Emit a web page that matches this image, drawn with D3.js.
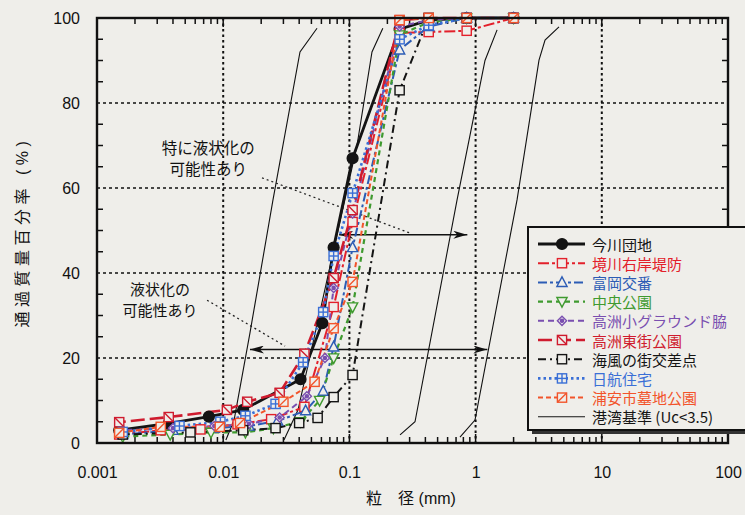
<!DOCTYPE html>
<html>
<head>
<meta charset="utf-8">
<script src="https://cdn.jsdelivr.net/npm/d3@7/dist/d3.min.js"></script>
<style>
body { margin: 0; background: #efeeea; }
svg { display: block; font-family: "Liberation Sans", Arial, "Noto Sans CJK JP", sans-serif; }
</style>
</head>
<body>
<div id="chart"></div>
<script>
// set up dimens. and margins
const margin = { top: 18, right: 17, bottom: 72, left: 97 };
const width = 745 - margin.left - margin.right;
const height = 515 - margin.top - margin.bottom;
const bg = '#efeeea';

// axis values
const xTicks = [0.001, 0.01, 0.1, 1, 10, 100];
const xTickLabels = ['0.001', '0.01', '0.1', '1', '10', '100'];
const yTicks = [0, 20, 40, 60, 80, 100];
const xGrid = [0.01, 0.1, 1, 10];
const yGrid = [20, 40, 60, 80];

// grain size curves: [diameter mm, passing %]
const imakawa = [[2, 100], [0.85, 100], [0.425, 99.5], [0.25, 97.4], [0.106, 67], [0.075, 46], [0.061, 28.2], [0.041, 15], [0.0144, 7.8], [0.0077, 6.2], [0.0037, 4.6], [0.0015, 3]];
const sakaigawa = [[2, 100], [0.85, 97], [0.425, 96.7], [0.25, 96.5], [0.106, 52], [0.075, 32], [0.044, 8.5], [0.024, 5.6], [0.013, 4.4], [0.0066, 3.2], [0.0032, 3], [0.0015, 2]];
const tomioka = [[2, 100], [0.85, 100], [0.425, 98], [0.25, 92.5], [0.106, 46], [0.075, 22.6], [0.062, 12.2], [0.045, 7.6], [0.027, 5.2], [0.016, 4], [0.0085, 3.5], [0.004, 3], [0.0016, 2]];
const chuo = [[2, 100], [0.85, 100], [0.425, 99], [0.25, 96], [0.106, 32], [0.075, 20], [0.058, 10], [0.041, 5], [0.025, 3.5], [0.015, 2.5], [0.008, 2.5], [0.0038, 2], [0.0016, 1.5]];
const takasuSho = [[2, 100], [0.85, 100], [0.425, 99.5], [0.25, 98], [0.106, 54], [0.075, 36.5], [0.064, 20], [0.046, 11], [0.028, 6], [0.016, 4.5], [0.0085, 4], [0.004, 3.5], [0.0016, 3]];
const takasuHigashi = [[2, 100], [0.85, 100], [0.425, 100], [0.25, 99.5], [0.106, 54.8], [0.075, 38.8], [0.044, 21], [0.028, 11.8], [0.0155, 9.7], [0.0107, 7.8], [0.0037, 6.1], [0.0015, 4.9]];
const kaifu = [[2, 100], [0.85, 100], [0.425, 100], [0.25, 83], [0.106, 16], [0.075, 10.8], [0.056, 5.9], [0.04, 4.7], [0.026, 3.5], [0.0144, 3], [0.0055, 2.5], [0.0016, 2]];
const nikko = [[2, 100], [0.85, 100], [0.425, 98.3], [0.25, 95], [0.106, 58.8], [0.075, 44], [0.062, 30.8], [0.043, 19], [0.026, 9.2], [0.015, 6.4], [0.0095, 5], [0.0045, 4], [0.0016, 2.6]];
const urayasu = [[2, 100], [0.85, 100], [0.425, 100], [0.25, 99.5], [0.106, 37.9], [0.075, 27], [0.053, 14.4], [0.03, 9.7], [0.0136, 4.7], [0.0094, 3.8], [0.0032, 3.8], [0.0015, 2.4]];

// port standard boundary curves (Uc<3.5)
const kowanA = [[0.0105, 0.7], [0.0122, 5.4], [0.0163, 25.9], [0.0248, 57.2], [0.0406, 92], [0.0554, 97.6]];
const kowanB = [[0.0303, 0.7], [0.0392, 7.8], [0.115, 70.1], [0.151, 92], [0.184, 97.6]];
const kowanC = [[0.252, 1.9], [0.331, 5], [0.713, 57.2], [1.187, 90], [1.48, 97.2]];
const kowanD = [[0.752, 1.4], [0.989, 5.4], [2.13, 57.2], [3.18, 90.1], [3.55, 94.8], [4.58, 97.9]];

// annotations
const arrowUpper = { p: 49, d1: 0.083, d2: 0.86 };
const arrowLower = { p: 22, d1: 0.0163, d2: 1.24 };
const leaderUpper = [[0.0203, 62.4], [0.302, 49.4]];
const leaderLower = [[0.00745, 33.6], [0.0309, 22.8]];
const noteUpper = { d: 0.0076, p: 69.4, gap: 21, size: 15.5, lines: ['特に液状化の', '可能性あり'] };
const noteLower = { d: 0.00316, p: 36.2, gap: 21, size: 15, lines: ['液状化の', '可能性あり'] };

const seriesList = [
    { name: '今川団地', data: imakawa, color: '#141414', dash: null, w: 2.8, marker: 'circle' },
    { name: '境川右岸堤防', data: sakaigawa, color: '#e3202b', dash: '11,3,3,3', w: 2, marker: 'square' },
    { name: '富岡交番', data: tomioka, color: '#2c5cb5', dash: '9,3,3,3', w: 2, marker: 'triangle' },
    { name: '中央公園', data: chuo, color: '#3f9a2f', dash: '5,4', w: 2.2, marker: 'triangleDown' },
    { name: '高洲小グラウンド脇', data: takasuSho, color: '#7a4fb0', dash: '6,4', w: 2, marker: 'diamond' },
    { name: '高洲東街公園', data: takasuHigashi, color: '#cf1b2e', dash: '14,5', w: 2.6, marker: 'squareBack' },
    { name: '海風の街交差点', data: kaifu, color: '#141414', dash: '8,4,2,4', w: 2, marker: 'square' },
    { name: '日航住宅', data: nikko, color: '#3a6fd6', dash: '2.5,3', w: 2.6, marker: 'squareGrid' },
    { name: '浦安市墓地公園', data: urayasu, color: '#f2542b', dash: '5,3', w: 2, marker: 'squareSlash' }
];

const svg = d3.select('#chart')
    .append('svg')
    .attr('width', 745)
    .attr('height', 515);

svg.append('rect').attr('width', 745).attr('height', 515).attr('fill', bg);

const g = svg.append('g')
    .attr('transform', `translate(${margin.left},${margin.top})`);

const x = d3.scaleLog().domain([0.001, 100]).range([0, width]);
const y = d3.scaleLinear().domain([0, 100]).range([height, 0]);

// grid
g.selectAll('.hgrid').data(yGrid).enter().append('line')
    .attr('x1', 0).attr('x2', width)
    .attr('y1', d => y(d)).attr('y2', d => y(d))
    .attr('stroke', '#111').attr('stroke-width', 1.3).attr('stroke-dasharray', '3,3');
g.selectAll('.vgrid').data(xGrid).enter().append('line')
    .attr('x1', d => x(d)).attr('x2', d => x(d))
    .attr('y1', 0).attr('y2', height)
    .attr('stroke', '#111').attr('stroke-width', 2).attr('stroke-dasharray', '2.5,3');

// minor ticks (inward)
const xMinor = [];
[0.001, 0.01, 0.1, 1, 10].forEach(dec => d3.range(2, 10).forEach(k => xMinor.push(dec * k)));
const yMinor = d3.range(5, 100, 5).filter(v => v % 20 !== 0);
const tickG = g.append('g').attr('stroke', '#111').attr('stroke-width', 1.5);
xMinor.forEach(v => {
    tickG.append('line').attr('x1', x(v)).attr('x2', x(v)).attr('y1', height).attr('y2', height - 6);
    tickG.append('line').attr('x1', x(v)).attr('x2', x(v)).attr('y1', 0).attr('y2', 6);
});
xTicks.forEach(v => {
    tickG.append('line').attr('x1', x(v)).attr('x2', x(v)).attr('y1', height).attr('y2', height - 9);
    tickG.append('line').attr('x1', x(v)).attr('x2', x(v)).attr('y1', 0).attr('y2', 9);
});
yMinor.forEach(v => {
    tickG.append('line').attr('x1', 0).attr('x2', 6).attr('y1', y(v)).attr('y2', y(v));
    tickG.append('line').attr('x1', width).attr('x2', width - 6).attr('y1', y(v)).attr('y2', y(v));
});

// axes labels
g.append('g')
    .attr('transform', `translate(0,${height})`)
    .call(d3.axisBottom(x).tickValues(xTicks).tickFormat((d, i) => xTickLabels[i]).tickSize(0).tickPadding(24))
    .call(a => a.select('.domain').remove())
    .selectAll('text').attr('font-size', 16).attr('fill', '#111')
    .attr('font-family', '"Liberation Sans", Arial, sans-serif');
g.append('g')
    .call(d3.axisLeft(y).tickValues(yTicks).tickSize(0).tickPadding(17))
    .call(a => a.select('.domain').remove())
    .selectAll('text').attr('font-size', 16).attr('fill', '#111')
    .attr('font-family', '"Liberation Sans", Arial, sans-serif');

// boundary curves
const line = d3.line().x(d => x(d[0])).y(d => y(d[1]));
[kowanA, kowanB, kowanC, kowanD].forEach(c => {
    g.append('path').attr('d', line(c)).attr('fill', 'none')
        .attr('stroke', '#111').attr('stroke-width', 1.1);
});

// leaders
[leaderUpper, leaderLower].forEach(l => {
    g.append('path').attr('d', line(l)).attr('fill', 'none')
        .attr('stroke', '#222').attr('stroke-width', 1.3).attr('stroke-dasharray', '2,3');
});

// arrows
const defs = svg.append('defs');
defs.append('marker').attr('id', 'ah').attr('viewBox', '0 0 14 8')
    .attr('refX', 14).attr('refY', 4).attr('markerWidth', 14).attr('markerHeight', 8)
    .attr('markerUnits', 'userSpaceOnUse').attr('orient', 'auto-start-reverse')
    .append('path').attr('d', 'M0,0 L14,4 L0,8 L4,4 Z').attr('fill', '#111');
[arrowUpper, arrowLower].forEach(a => {
    g.append('line')
        .attr('x1', x(a.d1)).attr('x2', x(a.d2))
        .attr('y1', y(a.p)).attr('y2', y(a.p))
        .attr('stroke', '#111').attr('stroke-width', 1.5)
        .attr('marker-start', 'url(#ah)').attr('marker-end', 'url(#ah)');
});

// notes, one text block each with two lines
[noteUpper, noteLower].forEach(n => {
    const t = g.append('text').attr('text-anchor', 'middle')
        .attr('font-size', n.size).attr('fill', '#111')
        .attr('font-family', '"Noto Sans CJK JP", sans-serif');
    n.lines.forEach((s, i) => {
        t.append('tspan').attr('x', x(n.d))
            .attr('y', y(n.p) + 5.5 + i * n.gap)
            .text(s);
    });
});

// marker drawing
function drawMarker(sel, type, color, cx, cy) {
    const s = 4.6;
    const mg = sel.append('g').attr('transform', `translate(${cx},${cy})`)
        .attr('stroke', color).attr('stroke-width', 1.4).attr('fill', bg);
    if (type === 'circle') {
        mg.append('circle').attr('r', 5.4).attr('fill', color);
    } else if (type === 'triangle') {
        mg.append('path').attr('d', `M0,${-s - 1} L${s + 0.5},${s - 0.5} L${-s - 0.5},${s - 0.5} Z`);
    } else if (type === 'triangleDown') {
        mg.append('path').attr('d', `M0,${s + 1} L${s + 0.5},${-s + 0.5} L${-s - 0.5},${-s + 0.5} Z`);
    } else if (type === 'diamond') {
        mg.append('path').attr('d', `M0,${-s} L${s},0 L0,${s} L${-s},0 Z`);
        mg.append('circle').attr('r', 1.6).attr('fill', color);
    } else {
        mg.append('rect').attr('x', -s).attr('y', -s).attr('width', 2 * s).attr('height', 2 * s);
        if (type === 'squareBack') mg.append('line').attr('x1', -s).attr('y1', -s).attr('x2', s).attr('y2', s);
        if (type === 'squareSlash') mg.append('line').attr('x1', -s).attr('y1', s).attr('x2', s).attr('y2', -s);
        if (type === 'squareGrid') {
            mg.append('line').attr('x1', 0).attr('y1', -s).attr('x2', 0).attr('y2', s);
            mg.append('line').attr('x1', -s).attr('y1', 0).attr('x2', s).attr('y2', 0);
        }
    }
}

// series
seriesList.forEach(s => {
    g.append('path').attr('d', line(s.data)).attr('fill', 'none')
        .attr('stroke', s.color).attr('stroke-width', s.w)
        .attr('stroke-dasharray', s.dash);
});
seriesList.forEach(s => {
    s.data.forEach(d => drawMarker(g, s.marker, s.color, x(d[0]), y(d[1])));
});

// frame
g.append('rect').attr('width', width).attr('height', height)
    .attr('fill', 'none').attr('stroke', '#111').attr('stroke-width', 2.4);

// axis titles
svg.append('text').attr('x', 411).attr('y', 498)
    .attr('text-anchor', 'middle').attr('dominant-baseline', 'central')
    .attr('font-size', 16).attr('fill', '#111')
    .text('粒　径 (mm)');
svg.append('text').attr('transform', 'translate(22,232) rotate(-90)')
    .attr('text-anchor', 'middle').attr('dominant-baseline', 'central')
    .attr('font-size', 16).attr('letter-spacing', 4.5).attr('fill', '#111')
    .text('通過質量百分率 (%)');

// legend
const legend = svg.append('g').attr('transform', 'translate(528,227)');
legend.append('rect').attr('x', 4).attr('y', 4).attr('width', 222).attr('height', 203).attr('fill', '#333');
legend.append('rect').attr('width', 222).attr('height', 203)
    .attr('fill', bg).attr('stroke', '#111').attr('stroke-width', 2);
const legendItems = seriesList.concat([{ name: '港湾基準 (Uc<3.5)', color: '#141414', dash: null, w: 1.1, marker: null }]);
legendItems.forEach((s, i) => {
    const ly = 17 + i * 19.2;
    legend.append('line').attr('x1', 10).attr('x2', 57).attr('y1', ly).attr('y2', ly)
        .attr('stroke', s.color).attr('stroke-width', s.w).attr('stroke-dasharray', s.dash);
    if (s.marker) drawMarker(legend, s.marker, s.color, 34, ly);
    legend.append('text').attr('x', 64).attr('y', ly)
        .attr('dominant-baseline', 'central').attr('font-size', 15)
        .attr('fill', s.color)
        .attr('font-family', '"Noto Sans CJK JP", sans-serif')
        .text(s.name);
});
</script>
</body>
</html>
